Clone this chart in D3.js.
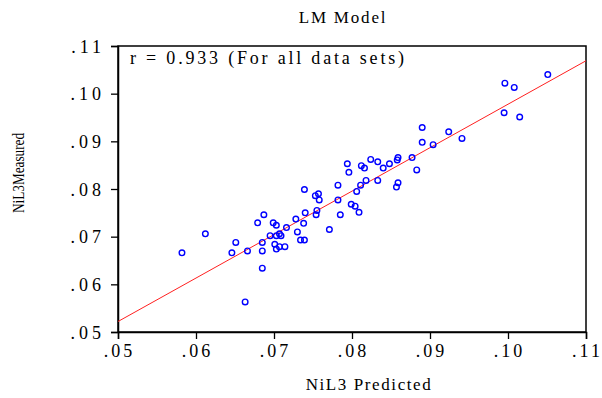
<!DOCTYPE html>
<html>
<head>
<meta charset="utf-8">
<script src="https://cdn.jsdelivr.net/npm/d3@7"></script>
<style>
  html, body { margin: 0; padding: 0; background: #fff; }
  svg text { font-family: "Liberation Serif", "Times New Roman", serif; fill: #000; }
</style>
</head>
<body>
<div id="chart"></div>
<script>
// NiL3 predicted (x) vs measured (y)
const predicted = [
  0.0582, 0.0612, 0.0646, 0.0651, 0.0663, 0.0666, 0.0679, 0.0687, 0.0685, 0.0685,
  0.0685, 0.0699, 0.0703, 0.0695, 0.0703, 0.0707, 0.0709, 0.0701, 0.0707, 0.0714,
  0.0703, 0.0716, 0.0728, 0.0730, 0.0734, 0.0739, 0.0738, 0.0740, 0.0739, 0.0753,
  0.0757, 0.0758, 0.0755, 0.0754, 0.0771, 0.0782, 0.0782, 0.0785, 0.0794, 0.0796,
  0.0799, 0.0804, 0.0806, 0.0809, 0.0811, 0.0812, 0.0816, 0.0818, 0.0824, 0.0833,
  0.0833, 0.0840, 0.0848, 0.0859, 0.0858, 0.0859, 0.0857, 0.0877, 0.0883, 0.0890,
  0.0890, 0.0904, 0.0924, 0.0941, 0.0995, 0.0996, 0.1008, 0.1015, 0.1051
]
const measured = [
  0.0666, 0.0706, 0.0666, 0.0688, 0.0563, 0.0670, 0.0729, 0.0746, 0.0688, 0.0670,
  0.0634, 0.0729, 0.0724, 0.0702, 0.0702, 0.0706, 0.0702, 0.0684, 0.0679, 0.0679,
  0.0674, 0.0719, 0.0737, 0.0710, 0.0693, 0.0693, 0.0728, 0.0750, 0.0799, 0.0786,
  0.0790, 0.0777, 0.0755, 0.0746, 0.0715, 0.0808, 0.0777, 0.0746, 0.0853, 0.0835,
  0.0768, 0.0764, 0.0795, 0.0751, 0.0808, 0.0849, 0.0844, 0.0818, 0.0862, 0.0818,
  0.0857, 0.0844, 0.0853, 0.0866, 0.0861, 0.0813, 0.0804, 0.0866, 0.0840, 0.0929,
  0.0898, 0.0893, 0.0920, 0.0906, 0.0960, 0.1022, 0.1013, 0.0951, 0.1040
]
const xTicks = [0.05, 0.06, 0.07, 0.08, 0.09, 0.10, 0.11]
const yTicks = [0.05, 0.06, 0.07, 0.08, 0.09, 0.10, 0.11]
// fitted line end points
const fitX = [0.05, 0.11]
const fitY = [0.0522, 0.1069]

const width = 602, height = 398
const margin = { top: 46, right: 16, bottom: 66, left: 118 }

const svg = d3.select("#chart").append("svg")
  .attr("width", width)
  .attr("height", height)

const x = d3.scaleLinear().domain([0.05, 0.11]).range([margin.left, width - margin.right])
const y = d3.scaleLinear().domain([0.05, 0.11]).range([height - margin.bottom, margin.top])

const fmt = d => d3.format(".2f")(d).replace(/^0/, "")

// Frame
svg.append("rect")
  .attr("x", x(0.05)).attr("y", y(0.11))
  .attr("width", x(0.11) - x(0.05))
  .attr("height", y(0.05) - y(0.11))
  .attr("fill", "none")
  .attr("stroke", "#000")
  .attr("stroke-width", 1.5)

// Axes
const xAxis = svg.append("g")
  .attr("transform", `translate(0,${y(0.05)})`)
  .call(d3.axisBottom(x).tickValues(xTicks).tickFormat(fmt).tickSize(7).tickPadding(5))
const yAxis = svg.append("g")
  .attr("transform", `translate(${x(0.05)},0)`)
  .call(d3.axisLeft(y).tickValues(yTicks).tickFormat(fmt).tickSize(7).tickPadding(6))

;[xAxis, yAxis].forEach(g => {
  g.attr("font-family", null)
  g.select(".domain").attr("stroke", "#000").attr("stroke-width", 1.5)
  g.selectAll(".tick line").attr("stroke", "#000").attr("stroke-width", 1.3)
  g.selectAll(".tick text")
    .attr("font-size", 18)
    .attr("letter-spacing", 4)
    .attr("fill", "#000")
})
yAxis.selectAll(".tick text").attr("dy", "0.35em")
xAxis.selectAll(".tick text").attr("letter-spacing", 3).attr("dx", 1)

// Fit line
svg.append("line")
  .attr("x1", x(fitX[0])).attr("y1", y(fitY[0]))
  .attr("x2", x(fitX[1])).attr("y2", y(fitY[1]))
  .attr("stroke", "#ff2020")
  .attr("stroke-width", 1)

// Points
svg.append("g")
  .selectAll("circle")
  .data(predicted.map((p, i) => [p, measured[i]]))
  .join("circle")
  .attr("cx", d => x(d[0]))
  .attr("cy", d => y(d[1]))
  .attr("r", 2.8)
  .attr("fill", "none")
  .attr("stroke", "#0000ff")
  .attr("stroke-width", 1.4)

// Annotation
svg.append("text")
  .attr("x", 130).attr("y", 64)
  .attr("font-size", 18)
  .attr("letter-spacing", 2.8)
  .text("r = 0.933 (For all data sets)")

// Title
svg.append("text")
  .attr("x", 343).attr("y", 23)
  .attr("text-anchor", "middle")
  .attr("font-size", 17)
  .attr("letter-spacing", 1.8)
  .text("LM Model")

// X title
svg.append("text")
  .attr("x", 369).attr("y", 390)
  .attr("text-anchor", "middle")
  .attr("font-size", 17)
  .attr("letter-spacing", 1.6)
  .text("NiL3 Predicted")

// Y title (condensed)
svg.append("text")
  .attr("transform", `translate(24,173) rotate(-90)`)
  .attr("text-anchor", "middle")
  .attr("font-size", 16)
  .attr("textLength", 80)
  .attr("lengthAdjust", "spacingAndGlyphs")
  .text("NiL3Measured")
</script>
</body>
</html>
